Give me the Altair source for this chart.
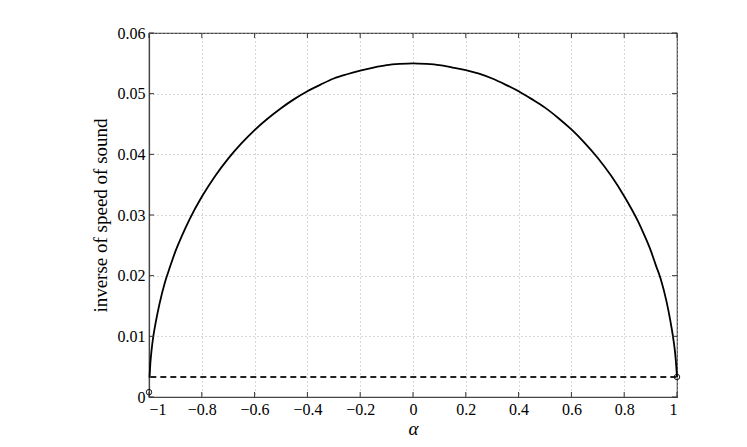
import altair as alt
import pandas as pd

# Solid curve: inverse of speed of sound vs alpha
alpha = [-0.998, -0.995, -0.99, -0.984, -0.975, -0.96, -0.939, -0.92, -0.9, -0.875,
         -0.845, -0.8, -0.75, -0.7, -0.65, -0.6, -0.55, -0.5, -0.45, -0.4,
         -0.35, -0.3, -0.25, -0.2, -0.15, -0.1, -0.05, 0.0,
         0.05, 0.1, 0.15, 0.2, 0.25, 0.3, 0.35, 0.4, 0.45, 0.5,
         0.55, 0.6, 0.65, 0.7, 0.75, 0.8, 0.853, 0.875, 0.9, 0.92,
         0.938, 0.96, 0.975, 0.986, 0.993, 0.997, 1.0]
inv_speed = [0.0032, 0.0055, 0.0078, 0.0099, 0.0122, 0.0154, 0.0190, 0.0215, 0.0240, 0.0266,
             0.0294, 0.0330, 0.0364, 0.0393, 0.0418, 0.0440, 0.0459, 0.0476, 0.0491, 0.0504,
             0.0515, 0.0525, 0.0532, 0.0538, 0.0543, 0.0547, 0.0549, 0.0550,
             0.0549, 0.0547, 0.0543, 0.0539, 0.0533, 0.0525, 0.0515, 0.0504, 0.0491, 0.0477,
             0.0460, 0.0441, 0.0419, 0.0394, 0.0365, 0.0331, 0.0289, 0.0268, 0.0242, 0.0217,
             0.0195, 0.0158, 0.0125, 0.0096, 0.0072, 0.0052, 0.0033]

# Dashed horizontal line
dash_alpha = [-0.995, 1.0]
dash_val = [0.0033, 0.0033]

# Open circle markers
marker_alpha = [-1.0, 1.0]
marker_val = [0.0008, 0.0033]

x_ticks = [-1.0, -0.8, -0.6, -0.4, -0.2, 0.0, 0.2, 0.4, 0.6, 0.8, 1.0]
y_ticks = [0.0, 0.01, 0.02, 0.03, 0.04, 0.05, 0.06]

W, H = 528, 364
FONT = "Liberation Serif"

curve_df = pd.DataFrame({"alpha": alpha, "v": inv_speed})
dash_df = pd.DataFrame({"alpha": dash_alpha, "v": dash_val})
mark_df = pd.DataFrame({"alpha": marker_alpha, "v": marker_val})
xt_df = pd.DataFrame({"t": x_ticks})
yt_df = pd.DataFrame({"t": y_ticks})

xscale = alt.Scale(domain=[-1, 1], nice=False, zero=False)
yscale = alt.Scale(domain=[0, 0.06], nice=False, zero=False)

x_axis = alt.Axis(values=x_ticks, format="~g", grid=True, ticks=False,
                  labelFont=FONT, labelFontSize=16, labelColor="black",
                  labelPadding=4, title="α", titleFont=FONT, titleFontSize=19,
                  titleFontStyle="italic", titleFontWeight="normal",
                  titleX=W / 2, titleY=37, titleBaseline="alphabetic", titleColor="black")
y_axis = alt.Axis(values=y_ticks, format="~g", grid=True, ticks=False,
                  labelFont=FONT, labelFontSize=16, labelColor="black",
                  labelPadding=4, title="inverse of speed of sound", titleFont=FONT,
                  titleFontSize=19, titleFontWeight="normal", titleAngle=-90,
                  titleX=-43, titleY=H / 2, titleAlign="center",
                  titleBaseline="alphabetic", titleColor="black")

curve = alt.Chart(curve_df).mark_line(color="black", strokeWidth=1.8, interpolate="monotone").encode(
    x=alt.X("alpha:Q", scale=xscale, axis=x_axis),
    y=alt.Y("v:Q", scale=yscale, axis=y_axis),
)

dashed = alt.Chart(dash_df).mark_line(color="#222222", strokeWidth=2, strokeDash=[6, 4]).encode(
    x=alt.X("alpha:Q", scale=xscale),
    y=alt.Y("v:Q", scale=yscale),
)

markers = alt.Chart(mark_df).mark_point(shape="circle", filled=False, color="black",
                                        size=30, strokeWidth=0.9, opacity=1).encode(
    x=alt.X("alpha:Q", scale=xscale),
    y=alt.Y("v:Q", scale=yscale),
)

tick_color = "#333333"
bottom_ticks = alt.Chart(xt_df).mark_rule(color=tick_color, strokeWidth=1).encode(
    x=alt.X("t:Q", scale=xscale), y=alt.value(H), y2=alt.value(H - 5))
top_ticks = alt.Chart(xt_df).mark_rule(color=tick_color, strokeWidth=1).encode(
    x=alt.X("t:Q", scale=xscale), y=alt.value(0), y2=alt.value(5))
left_ticks = alt.Chart(yt_df).mark_rule(color=tick_color, strokeWidth=1).encode(
    y=alt.Y("t:Q", scale=yscale), x=alt.value(0), x2=alt.value(5))
right_ticks = alt.Chart(yt_df).mark_rule(color=tick_color, strokeWidth=1).encode(
    y=alt.Y("t:Q", scale=yscale), x=alt.value(W), x2=alt.value(W - 5))

chart = alt.layer(
    curve, dashed, markers, bottom_ticks, top_ticks, left_ticks, right_ticks
).properties(
    width=W, height=H,
    autosize=alt.AutoSizeParams(type="none"),
    padding={"left": 141, "top": 25, "right": 62, "bottom": 42},
    background="white",
).configure_view(
    stroke="#444444", strokeWidth=1.2
).configure_axis(
    domainColor="#444444", domainWidth=1.2,
    gridColor="#b0b0b0", gridDash=[1, 3], gridWidth=1, gridOpacity=1,
)

chart.save("out.html", embed_options={"renderer": "svg", "actions": False})
